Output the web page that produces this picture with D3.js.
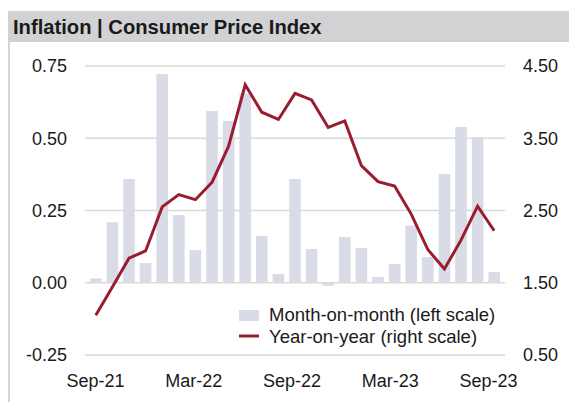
<!DOCTYPE html>
<html><head><meta charset="utf-8">
<script src="https://cdn.jsdelivr.net/npm/d3@7"></script>
<style>
html,body{margin:0;padding:0;background:#fff;}
svg{display:block;font-family:"Liberation Sans",Arial,sans-serif;}
</style></head>
<body>
<svg id="chart" width="569" height="402"></svg>
<script>
const title = "Inflation | Consumer Price Index";
const months = ["Sep-21","Oct-21","Nov-21","Dec-21","Jan-22","Feb-22","Mar-22","Apr-22","May-22","Jun-22","Jul-22","Aug-22","Sep-22","Oct-22","Nov-22","Dec-22","Jan-23","Feb-23","Mar-23","Apr-23","May-23","Jun-23","Jul-23","Aug-23","Sep-23"];
const momValues = [0.015,0.209,0.359,0.068,0.722,0.234,0.113,0.594,0.560,0.655,0.162,0.030,0.359,0.117,-0.010,0.158,0.120,0.020,0.065,0.198,0.089,0.376,0.539,0.504,0.037];
const yoyValues = [1.05,1.44,1.84,1.94,2.55,2.72,2.65,2.89,3.39,4.24,3.86,3.76,4.12,4.03,3.65,3.74,3.12,2.90,2.84,2.45,1.96,1.69,2.09,2.56,2.22];
const leftTicks = [-0.25,0,0.25,0.5,0.75];
const rightTicks = [0.5,1.5,2.5,3.5,4.5];
const xTickLabels = ["Sep-21","Mar-22","Sep-22","Mar-23","Sep-23"];
const legendLabels = ["Month-on-month (left scale)","Year-on-year (right scale)"];

const svg = d3.select("#chart");
const plot = {left:85, right:505, top:66, bottom:355};
const textColor = "#1a1a1a";
const fmt = d => d3.format(".2f")(d).replace("\u2212","-");

// panel frame
svg.append("rect").attr("x",8).attr("y",11).attr("width",561).attr("height",31).attr("fill","#d2d2d4");
svg.append("line").attr("x1",9).attr("x2",9).attr("y1",42).attr("y2",402).attr("stroke","#d6d6d6").attr("stroke-width",2);
svg.append("text").attr("x",13).attr("y",33.5).attr("font-size",20.2).attr("font-weight","bold").attr("fill",textColor).text(title);

const x = d3.scaleBand().domain(months).range([plot.left,plot.right]).paddingInner(0.3).paddingOuter(0.3);
const xLab = d3.scalePoint().domain(months).range([95,488]);
const yL = d3.scaleLinear().domain([-0.25,0.75]).range([plot.bottom,plot.top]);
const yR = d3.scaleLinear().domain([0.5,4.5]).range([plot.bottom,plot.top]);

// gridlines
svg.append("g").selectAll("line").data(leftTicks).join("line")
  .attr("x1",plot.left).attr("x2",plot.right)
  .attr("y1",d=>yL(d)).attr("y2",d=>yL(d))
  .attr("stroke","#d9d9d9").attr("stroke-width",1.5);

// bars
svg.append("g").selectAll("rect").data(momValues).join("rect")
  .attr("x",(d,i)=>x(months[i])).attr("width",x.bandwidth())
  .attr("y",d=>yL(Math.max(0,d))).attr("height",d=>Math.abs(yL(d)-yL(0)))
  .attr("fill","#d9dbe6");

// line
const line = d3.line().x((d,i)=>x(months[i])+x.bandwidth()/2).y(d=>yR(d));
svg.append("path").datum(yoyValues).attr("d",line).attr("fill","none")
  .attr("stroke","#9b1b2f").attr("stroke-width",3).attr("stroke-linejoin","miter");

// left axis
const axL = d3.axisLeft(yL).tickValues(leftTicks).tickFormat(fmt).tickSize(0).tickPadding(0);
const gL = svg.append("g").attr("transform","translate(67,0)").call(axL);
gL.select(".domain").remove();
gL.selectAll("text").attr("font-size",18).attr("fill",textColor).attr("font-family","Liberation Sans, Arial, sans-serif");

// right axis
const axR = d3.axisRight(yR).tickValues(rightTicks).tickFormat(fmt).tickSize(0).tickPadding(0);
const gR = svg.append("g").attr("transform","translate(523,0)").call(axR);
gR.select(".domain").remove();
gR.selectAll("text").attr("font-size",18).attr("fill",textColor).attr("font-family","Liberation Sans, Arial, sans-serif");

// x axis
const axX = d3.axisBottom(xLab).tickValues(xTickLabels).tickSize(0).tickPadding(0);
const gX = svg.append("g").attr("transform","translate(0,387)").call(axX);
gX.select(".domain").remove();
gX.selectAll("text").attr("font-size",18).attr("fill",textColor).attr("dy","0").attr("font-family","Liberation Sans, Arial, sans-serif");

// legend
const lg = svg.append("g");
lg.append("rect").attr("x",239).attr("y",310).attr("width",20).attr("height",11).attr("fill","#d9dbe6");
lg.append("line").attr("x1",239).attr("x2",259).attr("y1",336).attr("y2",336).attr("stroke","#9b1b2f").attr("stroke-width",3);
lg.selectAll("text").data(legendLabels).join("text")
  .attr("x",269).attr("y",(d,i)=>315+i*21.5).attr("dy","0.35em")
  .attr("font-size",18.5).attr("fill",textColor).text(d=>d);
</script>
</body></html>
